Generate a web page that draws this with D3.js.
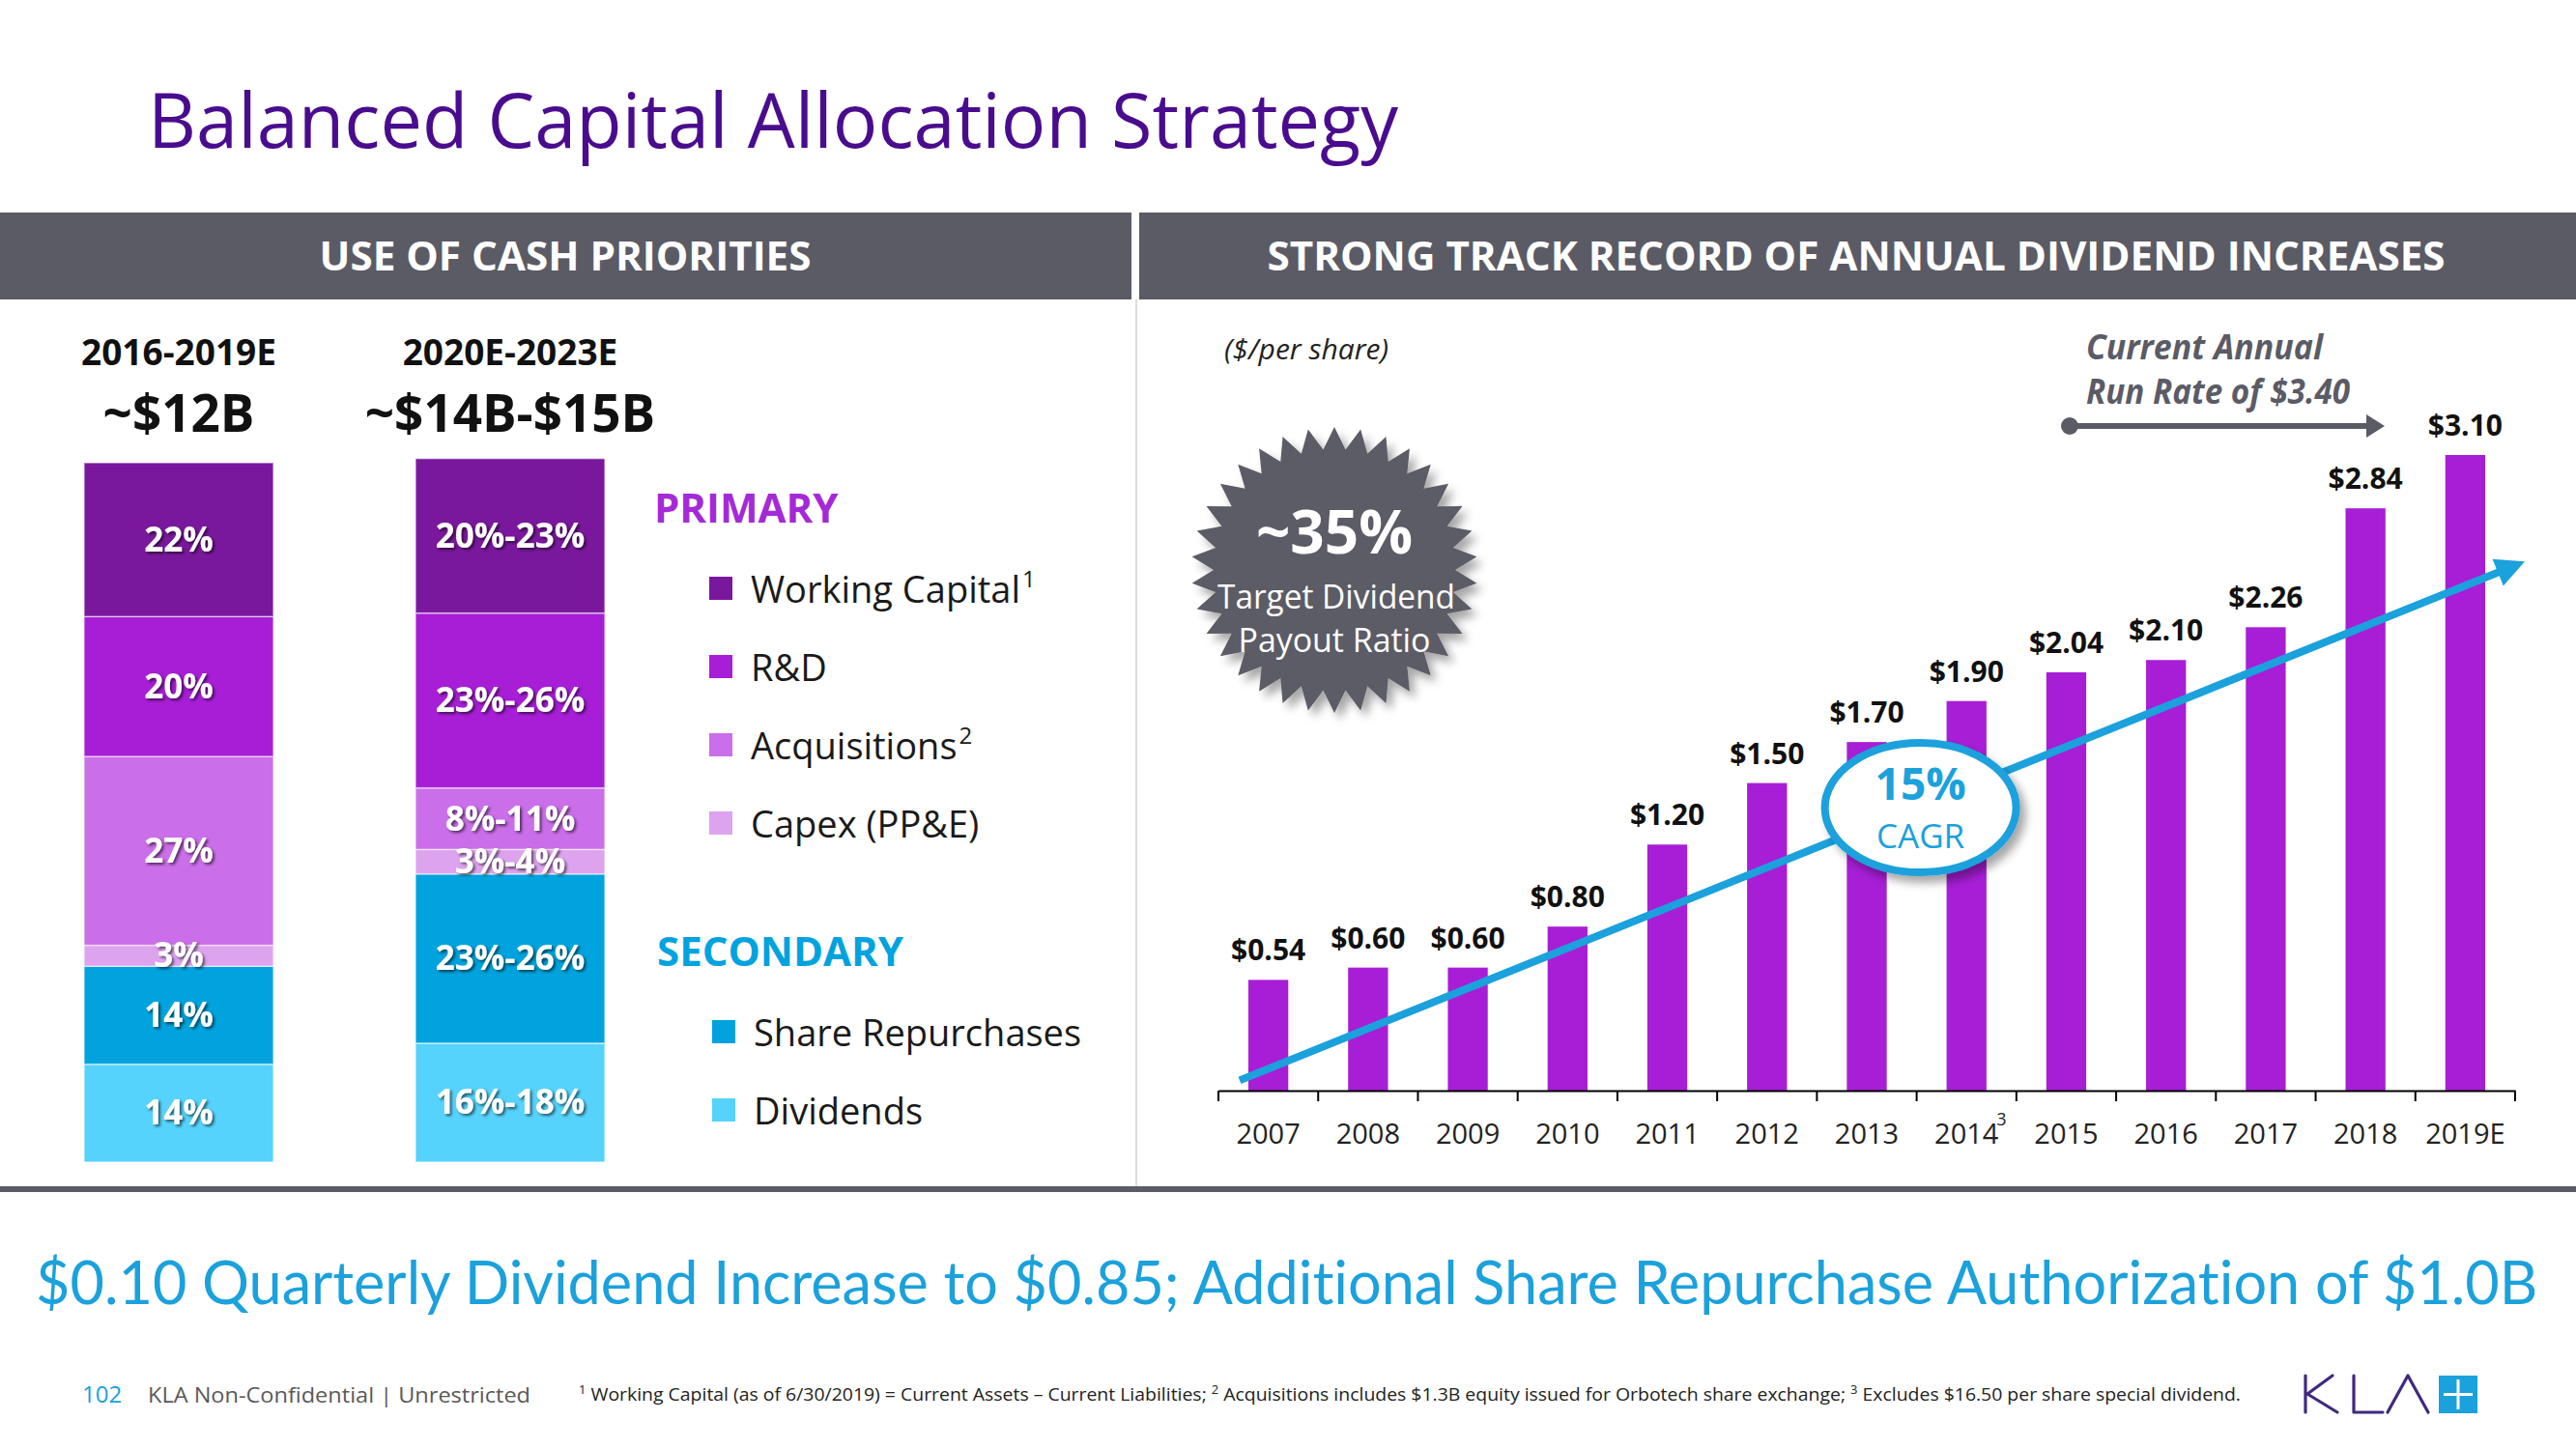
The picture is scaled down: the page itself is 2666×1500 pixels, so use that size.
<!DOCTYPE html>
<html><head><meta charset="utf-8">
<script src="https://cdn.jsdelivr.net/npm/d3@7"></script>
<style>body{margin:0;background:#fff;} svg{display:block;font-family:"Open Sans",sans-serif;font-variant-ligatures:none;}</style>
</head><body><svg id="c" width="2666" height="1500"></svg>
<script>
// ---------- DATA ----------
const allocCategories = ["Working Capital","R&D","Acquisitions","Capex (PP&E)","Share Repurchases","Dividends"];
const allocSuper = ["1","","2","","",""];
const periods = ["2016-2019E","2020E-2023E"];
const periodTotals = ["~$12B","~$14B-$15B"];
const alloc2016Pct = [22,20,27,3,14,14];
const alloc2020Low = [20,23,8,3,23,16];
const alloc2020High = [23,26,11,4,26,18];
// segment shares as drawn in the picture for the 2020E-2023E column
const alloc2020Drawn = [22.1,25.0,8.8,3.5,24.2,17.0];

const divYears = ["2007","2008","2009","2010","2011","2012","2013","2014","2015","2016","2017","2018","2019E"];
const divYearSup = ["","","","","","","","3","","","","",""];
const divValues = [0.54,0.60,0.60,0.80,1.20,1.50,1.70,1.90,2.04,2.10,2.26,2.84,3.10];

const payoutTarget = "~35%";
const cagrText = "15%";
const runRateLines = ["Current Annual","Run Rate of $3.40"];

// ---------- STYLE ----------
const allocColors = ["#7A189D","#A71ED6","#CB6EE9","#DDA3EF","#00A3DE","#56D3FD"];
const gray = "#5B5B66";
const blue = "#1BA1DC";

const svg = d3.select("#c");
const defs = svg.append("defs");
defs.append("filter").attr("id","ts").attr("x","-20%").attr("y","-20%").attr("width","140%").attr("height","140%")
  .append("feDropShadow").attr("dx",2).attr("dy",2).attr("stdDeviation",1.5).attr("flood-color","#000").attr("flood-opacity",0.6);
defs.append("filter").attr("id","ds").attr("x","-20%").attr("y","-20%").attr("width","150%").attr("height","150%")
  .append("feDropShadow").attr("dx",6).attr("dy",7).attr("stdDeviation",5).attr("flood-color","#000").attr("flood-opacity",0.35);

function fit(sel, w){ sel.attr("textLength", w).attr("lengthAdjust","spacingAndGlyphs"); return sel; }
function sizeTo(sel, w, maxSize){
  const n = sel.node().getComputedTextLength();
  const fs = +sel.attr("font-size");
  sel.attr("font-size", Math.min(maxSize, fs*w/n));
  return sel;
}

// ---------- TITLE & HEADERS ----------
fit(svg.append("text").attr("x",153).attr("y",153).attr("font-size",78).attr("fill","#4A0C8E")
  .text("Balanced Capital Allocation Strategy"), 1294);

svg.append("rect").attr("x",0).attr("y",220).attr("width",1171).attr("height",90).attr("fill",gray);
svg.append("rect").attr("x",1179).attr("y",220).attr("width",1487).attr("height",90).attr("fill",gray);
fit(svg.append("text").attr("x",585).attr("y",280).attr("text-anchor","middle").attr("font-size",42)
  .attr("font-weight",700).attr("fill","#fff").text("USE OF CASH PRIORITIES"), 509);
fit(svg.append("text").attr("x",1921).attr("y",280).attr("text-anchor","middle").attr("font-size",42)
  .attr("font-weight",700).attr("fill","#fff").text("STRONG TRACK RECORD OF ANNUAL DIVIDEND INCREASES"), 1219);

svg.append("line").attr("x1",1176).attr("x2",1176).attr("y1",310).attr("y2",1228).attr("stroke","#dcdcdc").attr("stroke-width",2);
svg.append("rect").attr("x",0).attr("y",1228).attr("width",2666).attr("height",6).attr("fill",gray);

// ---------- LEFT: STACKED BARS ----------
const px = d3.scaleBand().domain(periods).range([87,626]).paddingInner(0.4286).paddingOuter(0);
const ph = d3.scaleLinear().domain([0,100]).range([0,724]);
const base = 1203;

const periodValues = [alloc2016Pct, alloc2020Drawn];
const periodLabels = [alloc2016Pct.map(v=>v+"%"), alloc2020Low.map((l,i)=>l+"%-"+alloc2020High[i]+"%")];

periods.forEach((p,pi)=>{
  const vals = periodValues[pi];
  let acc = 0;
  const segs = [];
  for (let i = vals.length-1; i>=0; i--) { segs.push({i, y0:acc, y1:acc+vals[i]}); acc += vals[i]; }
  const g = svg.append("g");
  g.selectAll("rect").data(segs).join("rect")
    .attr("x", px(p)).attr("width", px.bandwidth())
    .attr("y", d=>base-ph(d.y1)).attr("height", d=>ph(d.y1)-ph(d.y0))
    .attr("fill", d=>allocColors[d.i]).attr("stroke","rgba(255,255,255,0.55)").attr("stroke-width",1.5);
  g.selectAll("text").data(segs).join("text")
    .attr("x", px(p)+px.bandwidth()/2).attr("y", d=>base-ph((d.y0+d.y1)/2)+12)
    .attr("text-anchor","middle").attr("font-size",35).attr("font-weight",700).attr("fill","#fff")
    .attr("filter","url(#ts)").text(d=>periodLabels[pi][d.i]);
  const cx = px(p)+px.bandwidth()/2;
  svg.append("text").attr("x",cx).attr("y",378).attr("text-anchor","middle").attr("font-size",37).attr("font-weight",700).attr("fill","#111").text(p);
  svg.append("text").attr("x",cx).attr("y",447).attr("text-anchor","middle").attr("font-size",53).attr("font-weight",700).attr("fill","#111").text(periodTotals[pi]);
});

// legend
svg.append("text").attr("x",677).attr("y",541).attr("font-size",42).attr("font-weight",700).attr("fill","#A42AD8").text("PRIMARY");
svg.append("text").attr("x",680).attr("y",1000).attr("font-size",42).attr("font-weight",700).attr("fill","#00A3DE").text("SECONDARY");
const legY = [624,705,786,867,1083,1164];
const legX = [734,734,734,734,737,737];
allocCategories.forEach((c,i)=>{
  svg.append("rect").attr("x",legX[i]).attr("y",legY[i]-27).attr("width",24).attr("height",24).attr("fill",allocColors[i]);
  const t = svg.append("text").attr("x",legX[i]+43).attr("y",legY[i]).attr("font-size",38).attr("fill","#1a1a1a").text(c);
  if (allocSuper[i]) {
    const w = t.node().getComputedTextLength();
    svg.append("text").attr("x",legX[i]+43+w+2).attr("y",legY[i]-16).attr("font-size",24).attr("fill","#1a1a1a").text(allocSuper[i]);
  }
});

// ---------- RIGHT: DIVIDEND BARS ----------
const xs = d3.scaleBand().domain(divYears).range([1261,2603]).paddingInner(0.6).paddingOuter(0.3);
const ys = d3.scaleLinear().domain([0,3.1]).range([1129,471]);

svg.append("text").attr("x",1267).attr("y",372).attr("font-size",30).attr("font-style","italic").attr("fill","#222").text("($/per share)");

svg.append("g").selectAll("rect").data(divYears).join("rect")
  .attr("x", d=>xs(d)).attr("width", xs.bandwidth())
  .attr("y", (d,i)=>ys(divValues[i])).attr("height",(d,i)=>ys(0)-ys(divValues[i]))
  .attr("fill","#A71ED6");

svg.append("g").selectAll("text").data(divYears).join("text")
  .attr("x", d=>xs(d)+xs.bandwidth()/2).attr("y",(d,i)=>ys(divValues[i])-20)
  .attr("text-anchor","middle").attr("font-size",30).attr("font-weight",700).attr("fill","#111")
  .text((d,i)=>"$"+divValues[i].toFixed(2));

const ax = svg.append("g").attr("transform","translate(0,1129)")
  .call(d3.axisBottom(xs).tickSize(0).tickPadding(34));
ax.attr("font-family","'Open Sans',sans-serif").attr("font-size",29);
ax.select(".domain").attr("stroke","#000").attr("stroke-width",2);
ax.selectAll(".tick text").attr("fill","#222");
ax.selectAll(".tick").each(function(d,i){
  if (divYearSup[i]) {
    const tx = d3.select(this).select("text");
    const w = tx.node().getComputedTextLength();
    d3.select(this).append("text").attr("x", w/2+3).attr("y",34).attr("dy","0.1em")
      .attr("font-size",18).attr("fill","#222").text(divYearSup[i]);
  }
});
ax.selectAll(".bnd").data(d3.range(divYears.length+1)).join("line").attr("class","bnd")
  .attr("x1", i=>xs.range()[0]+i*xs.step()).attr("x2", i=>xs.range()[0]+i*xs.step())
  .attr("y1",0).attr("y2",11).attr("stroke","#000").attr("stroke-width",2);

// trend arrow
(function(){
  const x0 = xs.range()[0]+22, y0 = ys(0.05);
  const x1 = xs.range()[1]+10, y1 = ys(2.58);
  const dx = x1-x0, dy = y1-y0, L = Math.hypot(dx,dy), ux = dx/L, uy = dy/L;
  const ah = 30, aw = 15;
  svg.append("line").attr("x1",x0).attr("y1",y0).attr("x2",x1-ux*ah*0.8).attr("y2",y1-uy*ah*0.8)
    .attr("stroke",blue).attr("stroke-width",8);
  const bx = x1-ux*ah, by = y1-uy*ah;
  svg.append("path").attr("d",`M${x1},${y1}L${bx-uy*aw},${by+ux*aw}L${bx+uy*aw},${by-ux*aw}Z`).attr("fill",blue);
})();

// CAGR callout
(function(){
  const cx = (xs("2013")+xs("2014")+xs.bandwidth())/2+4, cy = ys(1.38);
  svg.append("ellipse").attr("cx",cx).attr("cy",cy).attr("rx",99).attr("ry",67)
    .attr("fill","#fff").attr("stroke",blue).attr("stroke-width",8).attr("filter","url(#ds)");
  svg.append("text").attr("x",cx).attr("y",cy-8).attr("text-anchor","middle").attr("font-size",46).attr("font-weight",700).attr("fill",blue).text(cagrText);
  svg.append("text").attr("x",cx).attr("y",cy+42).attr("text-anchor","middle").attr("font-size",35).attr("fill",blue).text("CAGR");
})();

// starburst
(function(){
  const cx = 1381, cy = 590, n = 34, ro = 148, ri = 125;
  const pts = d3.range(n*2).map(k=>[k*Math.PI/n, k%2===0?ro:ri]);
  const star = d3.lineRadial().angle(d=>d[0]).radius(d=>d[1]).curve(d3.curveLinearClosed);
  svg.append("path").attr("transform",`translate(${cx},${cy})`).attr("d",star(pts)).attr("fill",gray).attr("filter","url(#ds)");
  svg.append("text").attr("x",cx).attr("y",573).attr("text-anchor","middle").attr("font-size",62).attr("font-weight",700).attr("fill","#fff").text(payoutTarget);
  fit(svg.append("text").attr("x",cx+2).attr("y",630).attr("text-anchor","middle").attr("font-size",34).attr("fill","#fff").text("Target Dividend"),246);
  fit(svg.append("text").attr("x",cx).attr("y",675).attr("text-anchor","middle").attr("font-size",34).attr("fill","#fff").text("Payout Ratio"),199);
})();

// run rate annotation
fit(svg.append("text").attr("x",2159).attr("y",372).attr("font-size",36).attr("font-weight",700).attr("font-style","italic").attr("fill",gray).text(runRateLines[0]),245);
fit(svg.append("text").attr("x",2159).attr("y",418).attr("font-size",36).attr("font-weight",700).attr("font-style","italic").attr("fill",gray).text(runRateLines[1]),273);
svg.append("circle").attr("cx",2142).attr("cy",441).attr("r",9).attr("fill",gray);
svg.append("line").attr("x1",2142).attr("x2",2452).attr("y1",441).attr("y2",441).attr("stroke",gray).attr("stroke-width",6);
svg.append("path").attr("d","M2468,441L2449,429L2449,453Z").attr("fill",gray);

// ---------- BOTTOM ----------
sizeTo(svg.append("text").attr("x",37).attr("y",1350).attr("font-size",64).attr("font-family","Lato, 'Open Sans', sans-serif").attr("fill",blue)
  .text("$0.10 Quarterly Dividend Increase to $0.85; Additional Share Repurchase Authorization of $1.0B"), 2590, 70);

svg.append("text").attr("x",85).attr("y",1452).attr("font-size",24).attr("fill",blue).text("102");
fit(svg.append("text").attr("x",153).attr("y",1452).attr("font-size",22).attr("fill","#595959").text("KLA Non-Confidential | Unrestricted"),396);
const fn = svg.append("text").attr("x",599).attr("y",1450).attr("font-size",18).attr("fill","#222");
fn.append("tspan").attr("font-size",12).attr("dy",-7).text("1");
fn.append("tspan").attr("dy",7).text(" Working Capital (as of 6/30/2019) = Current Assets \u2013 Current Liabilities; ");
fn.append("tspan").attr("font-size",12).attr("dy",-7).text("2");
fn.append("tspan").attr("dy",7).text(" Acquisitions includes $1.3B equity issued for Orbotech share exchange; ");
fn.append("tspan").attr("font-size",12).attr("dy",-7).text("3");
fn.append("tspan").attr("dy",7).text(" Excludes $16.50 per share special dividend.");
fit(fn,1720);

// KLA logo
const logo = svg.append("g").attr("fill","none").attr("stroke","#3F2A7E").attr("stroke-width",3.2).attr("stroke-linejoin","round").attr("stroke-linecap","round");
logo.append("path").attr("d","M2386,1424V1462M2414,1424L2388,1443L2419,1462");
logo.append("path").attr("d","M2436,1424V1462H2466");
logo.append("path").attr("d","M2471,1462L2492,1424L2513,1462");
svg.append("rect").attr("x",2524).attr("y",1424).attr("width",40).attr("height",39).attr("fill",blue);
svg.append("path").attr("d","M2529,1443.5H2559M2544,1428V1459").attr("stroke","#fff").attr("stroke-width",3);
</script></body></html>
